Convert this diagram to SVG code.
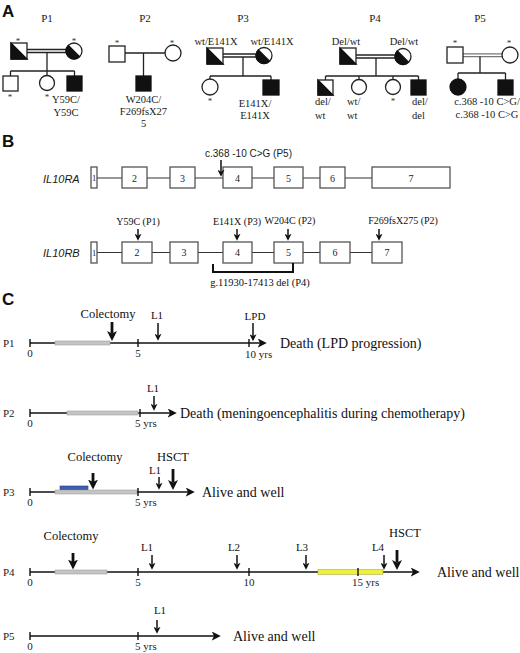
<svg xmlns="http://www.w3.org/2000/svg" width="520" height="653" viewBox="0 0 520 653">
<defs>
<style>
.ser{font-family:"Liberation Serif","Times New Roman",serif;fill:#1a1a1a}
.sans{font-family:"Liberation Sans",Arial,sans-serif;fill:#1a1a1a}
.pl{font-family:"Liberation Sans",Arial,sans-serif;font-weight:bold;font-size:17px;fill:#111}
.ln{stroke:#222;stroke-width:1.3;fill:none}
.sym{fill:#fff;stroke:#222;stroke-width:1.3}
.blk{fill:#111;stroke:#111;stroke-width:1.3}
.ast{font-family:"Liberation Serif",serif;font-size:9px;fill:#333;text-anchor:middle}
.ped{font-family:"Liberation Serif",serif;font-size:10.5px;fill:#1a1a1a}
.ttl{font-family:"Liberation Serif",serif;font-size:11px;fill:#1a1a1a;text-anchor:middle}
.mid{text-anchor:middle}
.ex{fill:#fff;stroke:#555;stroke-width:1.3}
.exn{font-family:"Liberation Serif",serif;font-size:10px;text-anchor:middle;fill:#222}
.exs{font-family:"Liberation Serif",serif;font-size:8.5px;text-anchor:middle;fill:#222}
.tl{stroke:#111;stroke-width:1.6;fill:none}
.tk{stroke:#111;stroke-width:1.4}
.tax{font-family:"Liberation Serif",serif;font-size:11px;fill:#222}
.ar{stroke:#111;stroke-width:1.5;marker-end:url(#ah)}
.arb{stroke:#111;stroke-width:2.8;marker-end:url(#ahb)}
.gbar{fill:#c4c4c4;stroke:#a0a0a0;stroke-width:0.6}
.big{font-family:"Liberation Serif","Times New Roman",serif;font-size:14px;fill:#111}
.ev{font-family:"Liberation Serif","Times New Roman",serif;font-size:12.5px;fill:#111;text-anchor:middle}
.lab{font-family:"Liberation Serif","Times New Roman",serif;font-size:11px;fill:#111;text-anchor:middle}
.mut{font-family:"Liberation Serif","Times New Roman",serif;font-size:10px;fill:#111;text-anchor:middle}
.gdel{font-family:"Liberation Serif","Times New Roman",serif;font-size:10.5px;fill:#111;text-anchor:middle}
.gene{font-family:"Liberation Sans",Arial,sans-serif;font-size:11px;font-style:italic;fill:#1a1a1a}
.var{font-family:"Liberation Sans",Arial,sans-serif;font-size:10px;fill:#1a1a1a}
</style>
<marker id="ah" viewBox="0 0 10 10" refX="2.5" refY="5" markerWidth="7" markerHeight="7" markerUnits="userSpaceOnUse" orient="auto"><path d="M0,0 L10,5 L0,10 L2.5,5 z" fill="#111"/></marker>
<marker id="ahb" viewBox="0 0 10 10" refX="2.5" refY="5" markerWidth="10" markerHeight="10" markerUnits="userSpaceOnUse" orient="auto"><path d="M0,0 L10,5 L0,10 L2.5,5 z" fill="#111"/></marker>
<marker id="aht" viewBox="0 0 10 10" refX="2.5" refY="5" markerWidth="9" markerHeight="9" markerUnits="userSpaceOnUse" orient="auto"><path d="M0,0 L10,5 L0,10 L2.5,5 z" fill="#111"/></marker>
</defs>
<rect width="520" height="653" fill="#fff"/>

<!-- Panel labels -->
<text class="pl" x="2" y="17">A</text>
<text class="pl" x="2" y="147">B</text>
<text class="pl" x="2" y="305">C</text>

<!-- ================= PANEL A ================= -->
<g id="pedigree-titles">
<text class="ttl" x="47" y="22">P1</text>
<text class="ttl" x="145" y="22">P2</text>
<text class="ttl" x="243" y="22">P3</text>
<text class="ttl" x="375" y="22">P4</text>
<text class="ttl" x="480" y="22">P5</text>
</g>

<g id="pedigree-connectors">
<!-- P1 -->
<line class="ln" x1="27" y1="49.5" x2="66" y2="49.5"/>
<line class="ln" x1="27" y1="52.5" x2="66" y2="52.5"/>
<path class="ln" d="M47,52.5 V71 M10.5,71 H74.5 M10.5,71 V76 M47,71 V75.5 M74.5,71 V76"/>
<!-- P2 -->
<line class="ln" x1="125" y1="53" x2="165" y2="53"/>
<path class="ln" d="M143.5,53 V76"/>
<!-- P3 -->
<line class="ln" x1="223" y1="54" x2="256" y2="54"/>
<line class="ln" x1="223" y1="57" x2="256" y2="57"/>
<path class="ln" d="M243,57 V76 M210,76 H271 M210,76 V79 M271,76 V80"/>
<!-- P4 -->
<line class="ln" x1="356" y1="55" x2="395" y2="55"/>
<line class="ln" x1="356" y1="58" x2="395" y2="58"/>
<path class="ln" d="M376,58 V76 M325.5,76 H418.5 M325.5,76 V80 M359,76 V79.5 M393,76 V79.5 M418.5,76 V80"/>
<!-- P5 -->
<line x1="463" y1="53.8" x2="502" y2="53.8" stroke="#777" stroke-width="1.3"/>
<line x1="463" y1="56.6" x2="502" y2="56.6" stroke="#777" stroke-width="1.3"/>
<path class="ln" d="M480,56.6 V73 M458,73 H505.5 M458,73 V79 M505.5,73 V80"/>
</g>

<!-- P1 family -->
<g id="p1-father"><rect class="sym" x="11" y="43" width="16" height="16"/><path class="blk" d="M11,43 L11,59 L27,59 Z"/><text class="ast" x="18" y="43.5">*</text></g>
<g id="p1-mother"><circle class="sym" cx="74" cy="51" r="8"/><path class="blk" d="M68.34,45.34 A8,8 0 0 0 79.66,56.66 Z"/><text class="ast" x="74" y="43.5">*</text></g>
<g id="p1-child1"><rect class="sym" x="3" y="76" width="15" height="15"/><text class="ast" x="10" y="100">*</text></g>
<g id="p1-child2"><circle class="sym" cx="47" cy="83" r="7.5"/><text class="ast" x="47" y="100">*</text></g>
<g id="p1-proband"><rect class="blk" x="67" y="76" width="15" height="15"/>
<text class="ped mid" x="66" y="103">Y59C/</text><text class="ped mid" x="66" y="116">Y59C</text></g>

<!-- P2 family -->
<g id="p2-father"><rect class="sym" x="109" y="46" width="16" height="16"/><text class="ast" x="117" y="46">*</text></g>
<g id="p2-mother"><circle class="sym" cx="173" cy="53" r="8"/><text class="ast" x="172" y="46">*</text></g>
<g id="p2-proband"><rect class="blk" x="136" y="76" width="15" height="15"/>
<text class="ped mid" x="143.5" y="103">W204C/</text><text class="ped mid" x="143.5" y="115">F269fsX27</text><text class="ped mid" x="143.5" y="127">5</text></g>

<!-- P3 family -->
<g id="p3-father"><rect class="sym" x="207" y="48" width="16" height="16"/><path class="blk" d="M207,48 L207,64 L223,64 Z"/><text class="ped mid" x="216" y="45">wt/E141X</text></g>
<g id="p3-mother"><circle class="sym" cx="264" cy="55.5" r="8"/><path class="blk" d="M258.34,49.84 A8,8 0 0 0 269.66,61.16 Z"/><text class="ped mid" x="272" y="45">wt/E141X</text></g>
<g id="p3-sister"><circle class="sym" cx="210" cy="87" r="8"/><text class="ast" x="210" y="104">*</text></g>
<g id="p3-proband"><rect class="blk" x="263" y="80" width="16" height="15"/>
<text class="ped mid" x="255" y="107">E141X/</text><text class="ped mid" x="255" y="119">E141X</text></g>

<!-- P4 family -->
<g id="p4-father"><rect class="sym" x="340" y="48" width="16" height="16"/><path class="blk" d="M340,48 L340,64 L356,64 Z"/><text class="ped mid" x="346" y="45">Del/wt</text></g>
<g id="p4-mother"><circle class="sym" cx="403" cy="56.5" r="8"/><path class="blk" d="M397.34,50.84 A8,8 0 0 0 408.66,62.16 Z"/><text class="ped mid" x="404" y="45">Del/wt</text></g>
<g id="p4-brother"><rect class="sym" x="318" y="80" width="15" height="15"/><path class="blk" d="M318,80 L318,95 L333,95 Z"/>
<text class="ped" x="315" y="105">del/</text><text class="ped" x="315" y="119">wt</text></g>
<g id="p4-sister1"><circle class="sym" cx="359" cy="87" r="7.5"/>
<text class="ped" x="347" y="105">wt/</text><text class="ped" x="347" y="119">wt</text></g>
<g id="p4-sister2"><circle class="sym" cx="393" cy="87" r="7.5"/><text class="ast" x="393" y="104">*</text></g>
<g id="p4-proband"><rect class="blk" x="411" y="80" width="15" height="15"/>
<text class="ped" x="412" y="105">del/</text><text class="ped" x="412" y="119">del</text></g>

<!-- P5 family -->
<g id="p5-father"><rect class="sym" x="447" y="47" width="16" height="16"/><text class="ast" x="455" y="46">*</text></g>
<g id="p5-mother"><circle class="sym" cx="510" cy="55" r="8"/><text class="ast" x="509" y="46">*</text></g>
<g id="p5-sister"><circle class="blk" cx="458" cy="87" r="8"/></g>
<g id="p5-proband"><rect class="blk" x="498" y="80" width="15" height="15"/>
<text class="ped mid" x="487" y="105">c.368 -10 C&gt;G/</text><text class="ped mid" x="487" y="118">c.368 -10 C&gt;G</text></g>

<!-- ================= PANEL B ================= -->
<g id="il10ra">
<text class="gene" x="43" y="183">IL10RA</text>
<line x1="97" y1="178" x2="372" y2="178" stroke="#333" stroke-width="1.2"/>
<rect class="ex" x="91" y="167" width="6" height="21"/><text class="exs" x="94" y="181">1</text>
<rect class="ex" x="122" y="167" width="25" height="21"/><text class="exn" x="134.5" y="181.5">2</text>
<rect class="ex" x="170" y="167" width="25" height="21"/><text class="exn" x="182.5" y="181.5">3</text>
<rect class="ex" x="223" y="167" width="29" height="21"/><text class="exn" x="237.5" y="181.5">4</text>
<rect class="ex" x="274" y="167" width="29" height="21"/><text class="exn" x="288.5" y="181.5">5</text>
<rect class="ex" x="320" y="167" width="25" height="21"/><text class="exn" x="332.5" y="181.5">6</text>
<rect class="ex" x="372" y="167" width="78" height="21"/><text class="exn" x="411" y="181.5">7</text>
<text class="var" x="205" y="157">c.368 -10 C&gt;G (P5)</text>
<line class="ar" x1="221" y1="160" x2="221" y2="171.5"/>
</g>

<g id="il10rb">
<text class="gene" x="43" y="257">IL10RB</text>
<line x1="97" y1="252.5" x2="372" y2="252.5" stroke="#333" stroke-width="1.2"/>
<rect class="ex" x="91" y="242" width="6" height="21"/><text class="exs" x="94" y="256">1</text>
<rect class="ex" x="122" y="242" width="30" height="21"/><text class="exn" x="137" y="256">2</text>
<rect class="ex" x="170" y="242" width="28" height="21"/><text class="exn" x="184" y="256">3</text>
<rect class="ex" x="223" y="242" width="29" height="21"/><text class="exn" x="237.5" y="256">4</text>
<rect class="ex" x="274" y="242" width="29" height="21"/><text class="exn" x="288.5" y="256">5</text>
<rect class="ex" x="320" y="242" width="30" height="21"/><text class="exn" x="335" y="256">6</text>
<rect class="ex" x="372" y="242" width="30" height="21"/><text class="exn" x="387" y="256">7</text>
<text class="mut" x="138" y="225">Y59C (P1)</text>
<text class="mut" x="237" y="225">E141X (P3)</text>
<text class="mut" x="290" y="224">W204C (P2)</text>
<text class="mut" x="403" y="224">F269fsX275 (P2)</text>
<line class="ar" x1="138" y1="229" x2="138" y2="235.5"/>
<line class="ar" x1="237" y1="229" x2="237" y2="235.5"/>
<line class="ar" x1="288" y1="229" x2="288" y2="235.5"/>
<line class="ar" x1="379" y1="229" x2="379" y2="235.5"/>
<path d="M213,264 V272 H293 V263" fill="none" stroke="#111" stroke-width="2"/>
<text class="gdel" x="260" y="286">g.11930-17413 del (P4)</text>
</g>

<!-- ================= PANEL C ================= -->
<g id="tl-p1">
<text class="tax" x="3" y="347">P1</text>
<line class="tl" x1="30" y1="343" x2="260" y2="343" marker-end="url(#aht)"/>
<rect class="gbar" x="55" y="341" width="55" height="4"/>
<path class="tk" d="M30,339 V347 M138,339 V347 M249,339 V347"/>
<text class="tax" x="30" y="357" text-anchor="middle">0</text>
<text class="tax" x="138" y="357" text-anchor="middle">5</text>
<text class="tax" x="245" y="358">10 yrs</text>
<text class="ev" x="108" y="318">Colectomy</text>
<line class="arb" x1="112" y1="322" x2="112" y2="333.5"/>
<text class="lab" x="157" y="319">L1</text>
<line class="ar" x1="158" y1="323" x2="158" y2="335.5"/>
<text class="lab" x="255" y="320">LPD</text>
<line class="ar" x1="253" y1="323" x2="253" y2="336"/>
<text class="big" x="280" y="348">Death (LPD progression)</text>
</g>

<g id="tl-p2">
<text class="tax" x="3" y="417">P2</text>
<line class="tl" x1="30" y1="413" x2="170" y2="413" marker-end="url(#aht)"/>
<rect class="gbar" x="67" y="411" width="71" height="4"/>
<path class="tk" d="M30,409 V417 M140,409 V417"/>
<text class="tax" x="30" y="427" text-anchor="middle">0</text>
<text class="tax" x="135" y="427">5 yrs</text>
<text class="lab" x="153" y="392">L1</text>
<line class="ar" x1="154" y1="396" x2="154" y2="405.5"/>
<text class="big" x="180" y="418">Death (meningoencephalitis during chemotherapy)</text>
</g>

<g id="tl-p3">
<text class="tax" x="3" y="496">P3</text>
<line class="tl" x1="30" y1="492" x2="188" y2="492" marker-end="url(#aht)"/>
<rect class="gbar" x="55" y="490" width="82" height="4"/>
<rect x="60" y="486" width="28" height="3.5" fill="#3f5fb0" stroke="#2a3f80" stroke-width="0.6"/>
<path class="tk" d="M30,488 V496 M138,488 V496"/>
<text class="tax" x="30" y="506" text-anchor="middle">0</text>
<text class="tax" x="135" y="506">5 yrs</text>
<text class="ev" x="95" y="461">Colectomy</text>
<line class="arb" x1="93" y1="473" x2="93" y2="482"/>
<text class="ev" x="173" y="461">HSCT</text>
<line class="arb" x1="173" y1="469" x2="173" y2="482.5"/>
<text class="lab" x="155" y="474">L1</text>
<line class="ar" x1="159" y1="477" x2="159" y2="484.5"/>
<text class="big" x="202" y="497">Alive and well</text>
</g>

<g id="tl-p4">
<text class="tax" x="3" y="576">P4</text>
<line class="tl" x1="30" y1="572" x2="413" y2="572" marker-end="url(#aht)"/>
<rect class="gbar" x="55" y="570" width="52" height="4"/>
<rect x="318" y="569.5" width="65" height="5" fill="#f0f03a" stroke="#a8a860" stroke-width="0.6"/>
<path class="tk" d="M30,568 V576 M138,568 V576 M249,568 V576 M358,568 V576"/>
<text class="tax" x="30" y="586" text-anchor="middle">0</text>
<text class="tax" x="138" y="586" text-anchor="middle">5</text>
<text class="tax" x="249" y="586" text-anchor="middle">10</text>
<text class="tax" x="352" y="586">15 yrs</text>
<text class="ev" x="71" y="540">Colectomy</text>
<line class="arb" x1="73" y1="553" x2="73" y2="562"/>
<text class="lab" x="147" y="551">L1</text>
<line class="ar" x1="152" y1="555" x2="152" y2="564.5"/>
<text class="lab" x="234" y="551">L2</text>
<line class="ar" x1="237" y1="555" x2="237" y2="564.5"/>
<text class="lab" x="302" y="551">L3</text>
<line class="ar" x1="306" y1="555" x2="306" y2="564.5"/>
<text class="lab" x="378" y="551">L4</text>
<line class="ar" x1="384" y1="555" x2="384" y2="564.5"/>
<text class="ev" x="405" y="537">HSCT</text>
<line class="arb" x1="397" y1="550" x2="397" y2="562.5"/>
<text class="big" x="437" y="577">Alive and well</text>
</g>

<g id="tl-p5">
<text class="tax" x="3" y="640">P5</text>
<line class="tl" x1="30" y1="636" x2="214" y2="636" marker-end="url(#aht)"/>
<path class="tk" d="M30,632 V640 M138,632 V640"/>
<text class="tax" x="30" y="650" text-anchor="middle">0</text>
<text class="tax" x="135" y="650">5 yrs</text>
<text class="lab" x="160" y="614">L1</text>
<line class="ar" x1="157" y1="620" x2="157" y2="628.5"/>
<text class="big" x="233" y="641">Alive and well</text>
</g>
</svg>
